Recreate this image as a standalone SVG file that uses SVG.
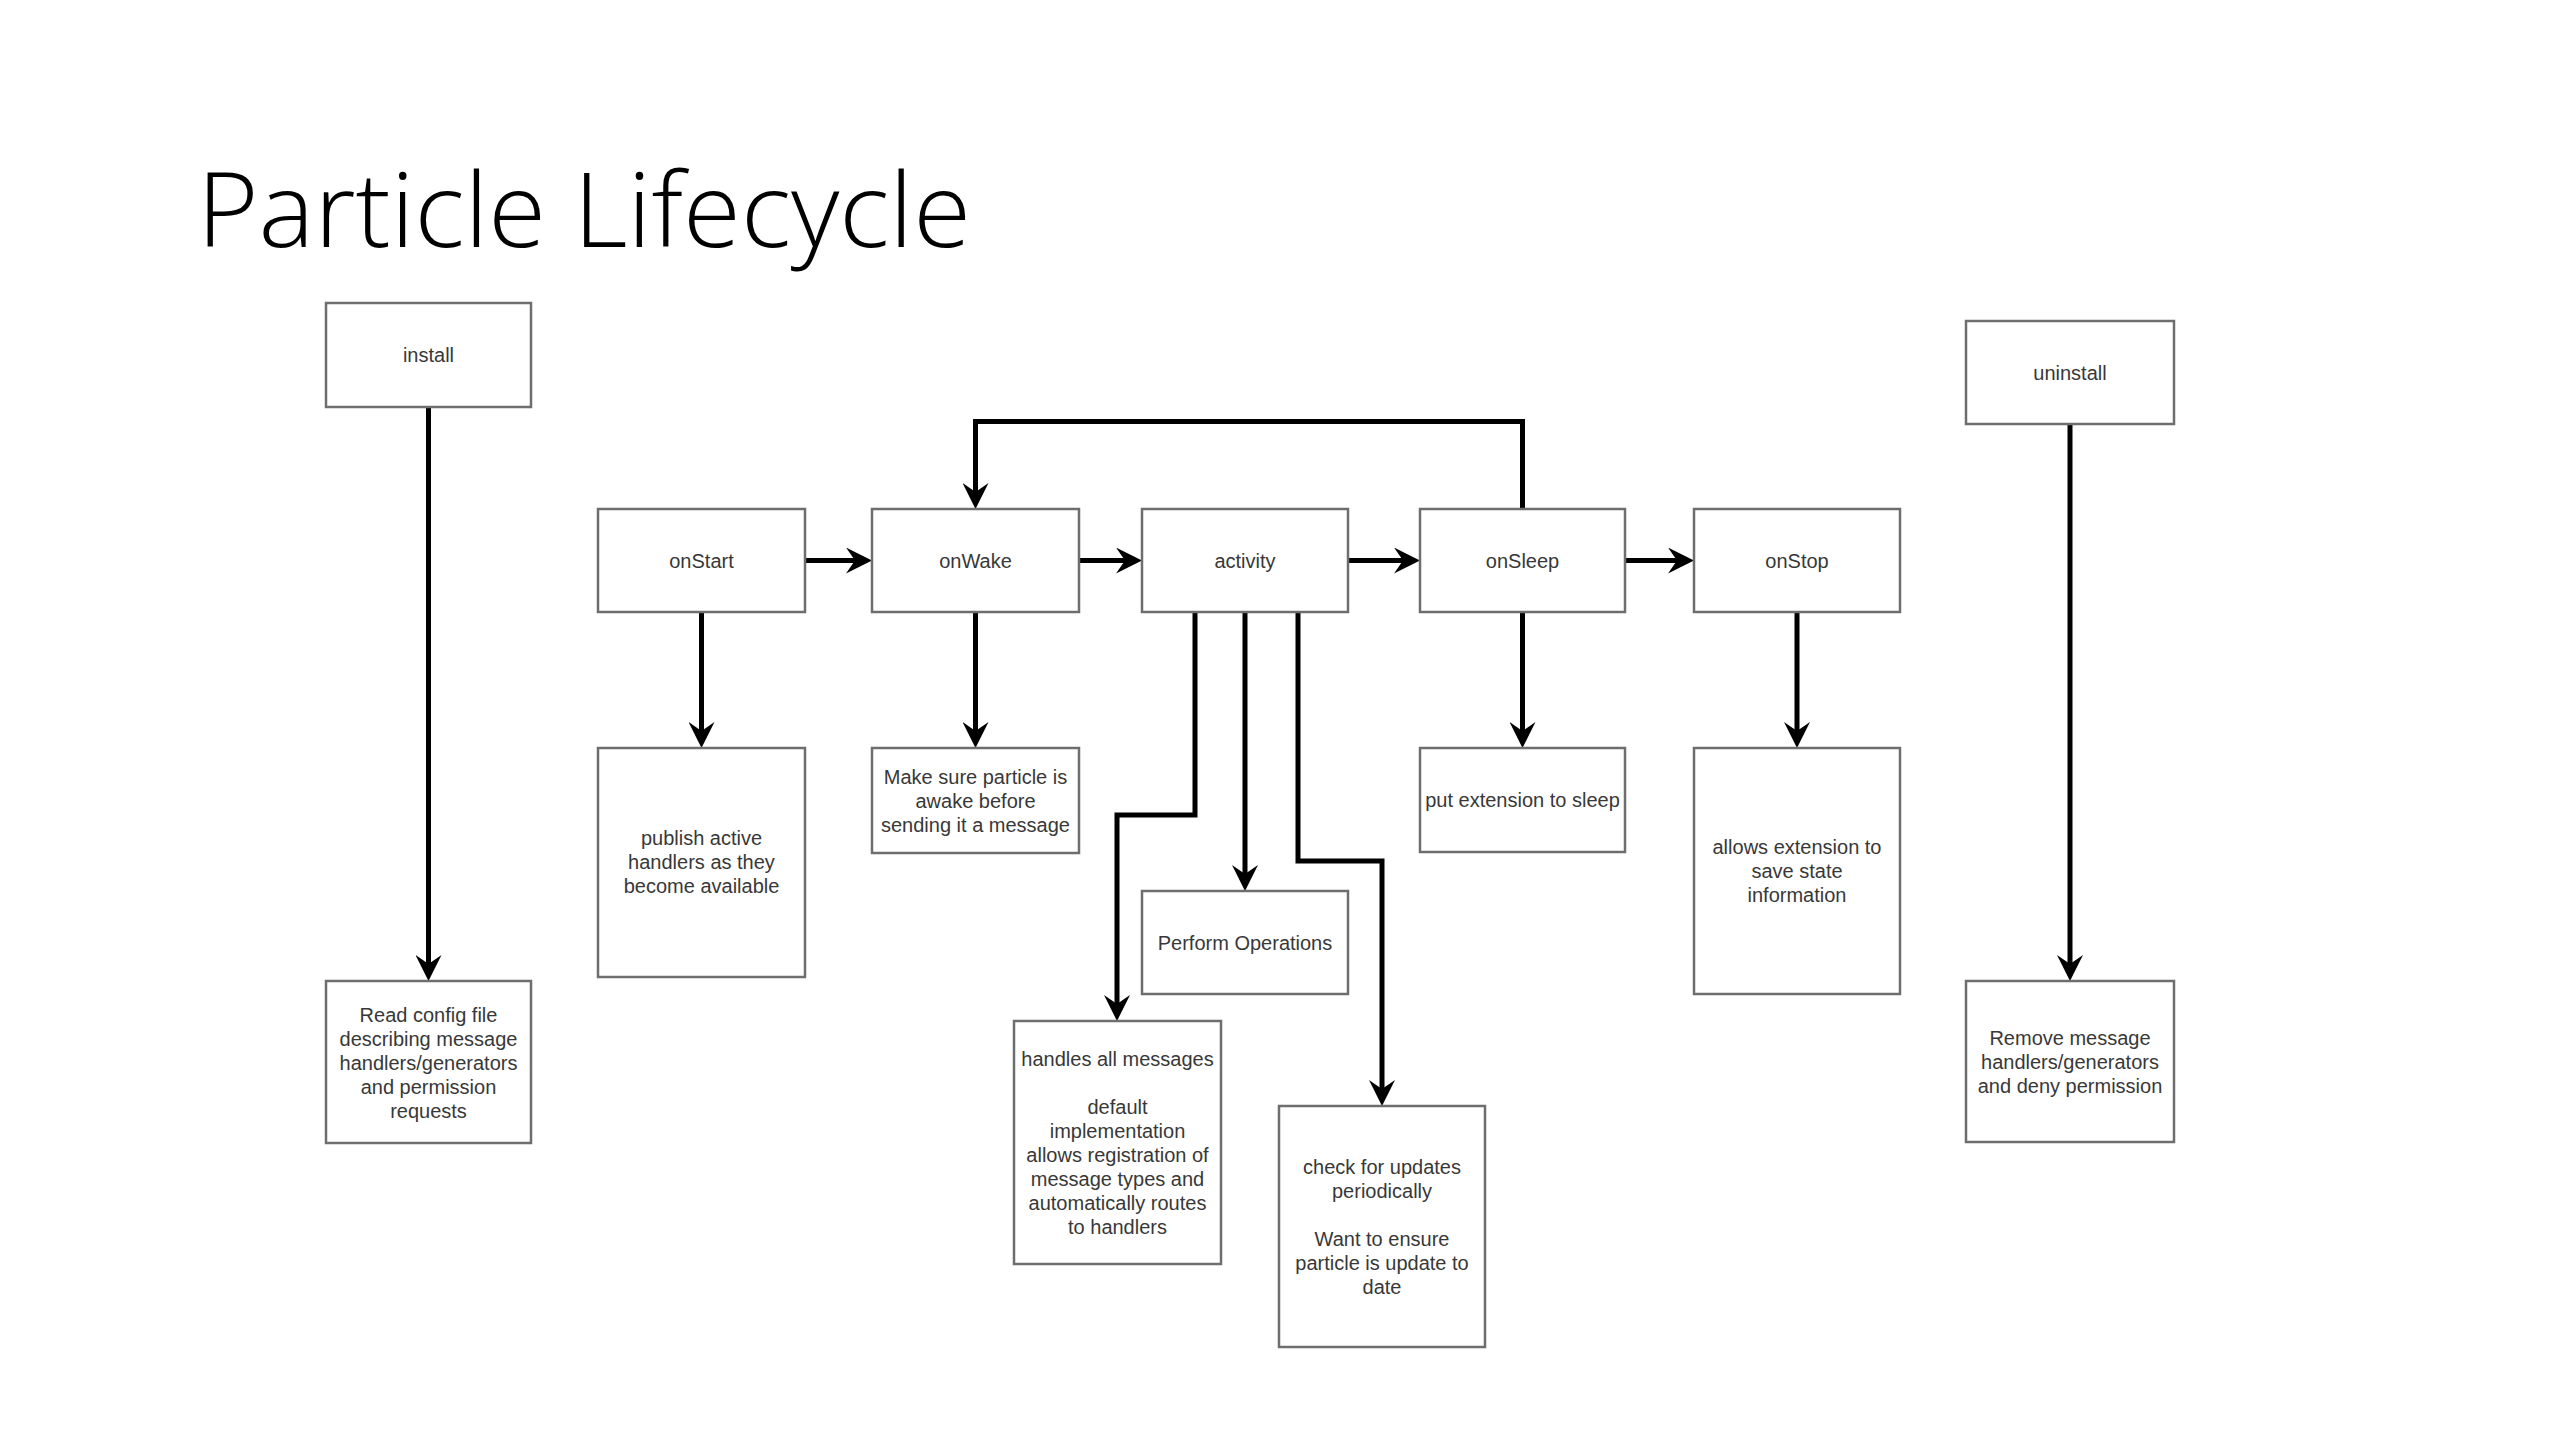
<svg xmlns="http://www.w3.org/2000/svg" width="2560" height="1440" viewBox="0 0 2560 1440">
<style>
.box{fill:#ffffff;stroke:#6e6e6e;stroke-width:2.5}
.lbl{font-family:"Liberation Sans",Arial,sans-serif;font-size:20px;fill:#383838;text-anchor:middle}
.con{fill:none;stroke:#000000;stroke-width:5}
.title{font-family:"Open Sans","Noto Sans",sans-serif;font-weight:300;font-size:104px;fill:#000000}
</style>
<defs>
<marker id="arr" markerUnits="userSpaceOnUse" viewBox="0 0 26 26" markerWidth="26" markerHeight="26" refX="9" refY="13" orient="auto">
<path d="M0,0 L26,13 L0,26 L9,13 Z" fill="#000000"/>
</marker>
</defs>
<rect width="2560" height="1440" fill="#ffffff"/>
<text class="title" x="197" y="247" textLength="774" lengthAdjust="spacingAndGlyphs">Particle Lifecycle</text>

<g id="connectors">
<path class="con" d="M428.5,407 V964" marker-end="url(#arr)"/>
<path class="con" d="M805,560.5 H855" marker-end="url(#arr)"/>
<path class="con" d="M1079,560.5 H1125" marker-end="url(#arr)"/>
<path class="con" d="M1348,560.5 H1403" marker-end="url(#arr)"/>
<path class="con" d="M1625,560.5 H1677" marker-end="url(#arr)"/>
<path class="con" d="M1522.5,509 V421.5 H975.5 V492" marker-end="url(#arr)"/>
<path class="con" d="M701.5,612 V731" marker-end="url(#arr)"/>
<path class="con" d="M975.5,612 V731" marker-end="url(#arr)"/>
<path class="con" d="M1195,612 V815 H1117 V1004" marker-end="url(#arr)"/>
<path class="con" d="M1245,612 V874" marker-end="url(#arr)"/>
<path class="con" d="M1298,612 V861 H1382 V1089" marker-end="url(#arr)"/>
<path class="con" d="M1522.5,612 V731" marker-end="url(#arr)"/>
<path class="con" d="M1797,612 V731" marker-end="url(#arr)"/>
<path class="con" d="M2070,424 V964" marker-end="url(#arr)"/>
</g>

<g id="install">
<rect class="box" x="326" y="303" width="205" height="104"/>
<text class="lbl" x="428.5" y="362">install</text>
</g>
<g id="readconfig">
<rect class="box" x="326" y="981" width="205" height="162"/>
<text class="lbl" y="1022"><tspan x="428.5">Read config file</tspan><tspan x="428.5" dy="24">describing message</tspan><tspan x="428.5" dy="24">handlers/generators</tspan><tspan x="428.5" dy="24">and permission</tspan><tspan x="428.5" dy="24">requests</tspan></text>
</g>
<g id="onStart">
<rect class="box" x="598" y="509" width="207" height="103"/>
<text class="lbl" x="701.5" y="567.5">onStart</text>
</g>
<g id="onWake">
<rect class="box" x="872" y="509" width="207" height="103"/>
<text class="lbl" x="975.5" y="567.5">onWake</text>
</g>
<g id="activity">
<rect class="box" x="1142" y="509" width="206" height="103"/>
<text class="lbl" x="1245" y="567.5">activity</text>
</g>
<g id="onSleep">
<rect class="box" x="1420" y="509" width="205" height="103"/>
<text class="lbl" x="1522.5" y="567.5">onSleep</text>
</g>
<g id="onStop">
<rect class="box" x="1694" y="509" width="206" height="103"/>
<text class="lbl" x="1797" y="567.5">onStop</text>
</g>
<g id="uninstall">
<rect class="box" x="1966" y="321" width="208" height="103"/>
<text class="lbl" x="2070" y="379.5">uninstall</text>
</g>
<g id="publish">
<rect class="box" x="598" y="748" width="207" height="229"/>
<text class="lbl" y="845"><tspan x="701.5">publish active</tspan><tspan x="701.5" dy="24">handlers as they</tspan><tspan x="701.5" dy="24">become available</tspan></text>
</g>
<g id="makesure">
<rect class="box" x="872" y="748" width="207" height="105"/>
<text class="lbl" y="783.5"><tspan x="975.5">Make sure particle is</tspan><tspan x="975.5" dy="24">awake before</tspan><tspan x="975.5" dy="24">sending it a message</tspan></text>
</g>
<g id="perform">
<rect class="box" x="1142" y="891" width="206" height="103"/>
<text class="lbl" x="1245" y="949.5">Perform Operations</text>
</g>
<g id="handles">
<rect class="box" x="1014" y="1021" width="207" height="243"/>
<text class="lbl" y="1065.5"><tspan x="1117.5">handles all messages</tspan><tspan x="1117.5" dy="48">default</tspan><tspan x="1117.5" dy="24">implementation</tspan><tspan x="1117.5" dy="24">allows registration of</tspan><tspan x="1117.5" dy="24">message types and</tspan><tspan x="1117.5" dy="24">automatically routes</tspan><tspan x="1117.5" dy="24">to handlers</tspan></text>
</g>
<g id="check">
<rect class="box" x="1279" y="1106" width="206" height="241"/>
<text class="lbl" y="1173.5"><tspan x="1382">check for updates</tspan><tspan x="1382" dy="24">periodically</tspan><tspan x="1382" dy="48">Want to ensure</tspan><tspan x="1382" dy="24">particle is update to</tspan><tspan x="1382" dy="24">date</tspan></text>
</g>
<g id="putext">
<rect class="box" x="1420" y="748" width="205" height="104"/>
<text class="lbl" x="1522.5" y="807">put extension to sleep</text>
</g>
<g id="allows">
<rect class="box" x="1694" y="748" width="206" height="246"/>
<text class="lbl" y="854"><tspan x="1797">allows extension to</tspan><tspan x="1797" dy="24">save state</tspan><tspan x="1797" dy="24">information</tspan></text>
</g>
<g id="remove">
<rect class="box" x="1966" y="981" width="208" height="161"/>
<text class="lbl" y="1045"><tspan x="2070">Remove message</tspan><tspan x="2070" dy="24">handlers/generators</tspan><tspan x="2070" dy="24">and deny permission</tspan></text>
</g>
</svg>
